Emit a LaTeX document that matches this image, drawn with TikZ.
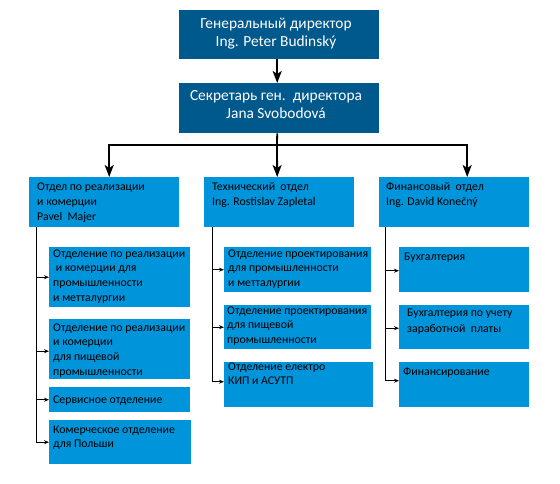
\documentclass[tikz,border=0pt]{standalone}
\usepackage{fontspec}
\setmainfont{Carlito}
\usetikzlibrary{arrows.meta}
\definecolor{darkbox}{RGB}{0,89,141}
\definecolor{lightbox}{RGB}{0,148,218}
\begin{document}
\begin{tikzpicture}[x=1pt,y=-1pt,
  topbox/.style={fill=darkbox,draw=none,inner sep=0pt,anchor=north west},
  subbox/.style={fill=lightbox,draw=none,inner sep=0pt,anchor=north west},
  toptext/.style={text=white,inner sep=0pt,align=center,anchor=base,font=\fontsize{15.4}{18}\selectfont},
  depttext/.style={text=black,inner sep=0pt,align=left,anchor=base west,font=\fontsize{11.8}{15}\selectfont},
  subtext/.style={text=black,inner sep=0pt,align=left,anchor=base west,font=\fontsize{11.8}{14.7}\selectfont},
  main/.style={line width=1.8pt,-{Stealth[length=12pt,width=9pt,inset=3pt]}},
  mainline/.style={line width=1.8pt},
  conn/.style={line width=0.8pt,-{Stealth[length=5pt,width=4pt]}}
]
\useasboundingbox (0,0) rectangle (560,483);
% top boxes
\node[topbox,minimum width=200pt,minimum height=49pt] (gd) at (179,10) {};
\node[topbox,minimum width=200pt,minimum height=50pt] (sec) at (179,83) {};
\node[toptext] (gdt) at (276,46) {Генеральный директор\\Ing. Peter Budinský};
\node[toptext] (sect) at (276,118.5) {Секретарь ген.\ \ директора\\Jana Svobodová};
% departments
\node[subbox,minimum width=150pt,minimum height=50pt] (d1) at (29,177) {};
\node[subbox,minimum width=150pt,minimum height=50pt] (d2) at (204,177) {};
\node[subbox,minimum width=150pt,minimum height=50pt] (d3) at (379,177) {};
\node[depttext] (d1t) at (37,220) {Отдел по реализации\\и комерции\\Pavel\ \ Majer};
\node[depttext] (d2t) at (212,205) {Технический\ \ отдел\\Ing. Rostislav Zapletal};
\node[depttext] (d3t) at (386,205) {Финансовый\ \ отдел\\Ing. David Konečný};
% left sub boxes
\node[subbox,minimum width=141pt,minimum height=60pt] (a1) at (49,247) {};
\node[subbox,minimum width=141pt,minimum height=60pt] (a2) at (49,319) {};
\node[subbox,minimum width=141pt,minimum height=25pt] (a3) at (49,387) {};
\node[subbox,minimum width=142pt,minimum height=44pt] (a4) at (49,420) {};
\node[subtext] (a1t) at (53,301.1) {Отделение по реализации\\\ и комерции для\\промышленности\\и метталургии};
\node[subtext] (a2t) at (53,375.1) {Отделение по реализации\\и комерции\\для пищевой\\промышленности};
\node[subtext] (a3t) at (53,403) {Сервисное отделение};
\node[subtext] (a4t) at (53,447.7) {Комерческое отделение\\для Польши};
% middle sub boxes
\node[subbox,minimum width=147pt,minimum height=45pt] (b1) at (224,247) {};
\node[subbox,minimum width=147pt,minimum height=44pt] (b2) at (224,305) {};
\node[subbox,minimum width=149pt,minimum height=45pt] (b3) at (224,362) {};
\node[subtext] (b1t) at (228,286.4) {Отделение проектирования\\для промышленности\\и метталургии};
\node[subtext] (b2t) at (227,343.4) {Отделение проектирования\\для пищевой\\промышленности};
\node[subtext] (b3t) at (228,384.7) {Отделение електро\\КИП и АСУТП};
% right sub boxes
\node[subbox,minimum width=130pt,minimum height=45pt] (c1) at (399,247) {};
\node[subbox,minimum width=130pt,minimum height=44pt] (c2) at (399,305) {};
\node[subbox,minimum width=130pt,minimum height=45pt] (c3) at (399,362) {};
\node[subtext] (c1t) at (404,260) {Бухгалтерия};
\node[subtext,font=\fontsize{11.8}{16}\selectfont] (c2t) at (407,332) {Бухгалтерия по учету\\заработной\ \ платы};
\node[subtext] (c3t) at (403,375) {Финансирование};
% main connectors
\coordinate (split) at (277,145);
\draw[main] ([xshift=-2pt]gd.south) -- ([xshift=-2pt]sec.north);
\draw[mainline] ([xshift=-2pt]sec.south) -- (split);
\draw[main] (split) -| ([xshift=5pt]d1.north);
\draw[main] (split) -- ([xshift=-2pt]d2.north);
\draw[main] (split) -| ([xshift=13pt]d3.north);
% sub connectors
\draw[conn] ([xshift=7pt]d1.south west) |- (a1.west);
\draw[conn] ([xshift=7pt]d1.south west) |- ([yshift=-2pt]a2.west);
\draw[conn] ([xshift=7pt]d1.south west) |- (a3.west);
\draw[conn] ([xshift=7pt]d1.south west) |- (a4.west);
\draw[conn] ([xshift=8pt]d2.south west) |- (b1.west);
\draw[conn] ([xshift=8pt]d2.south west) |- (b2.west);
\draw[conn] ([xshift=8pt]d2.south west) |- ([yshift=3pt]b3.west);
\draw[conn] ([xshift=6pt]d3.south west) |- ([yshift=-1pt]c1.west);
\draw[conn] ([xshift=6pt]d3.south west) |- ([yshift=-1pt]c2.west);
\draw[conn] ([xshift=6pt]d3.south west) |- ([yshift=4pt]c3.west);
\end{tikzpicture}
\end{document}
